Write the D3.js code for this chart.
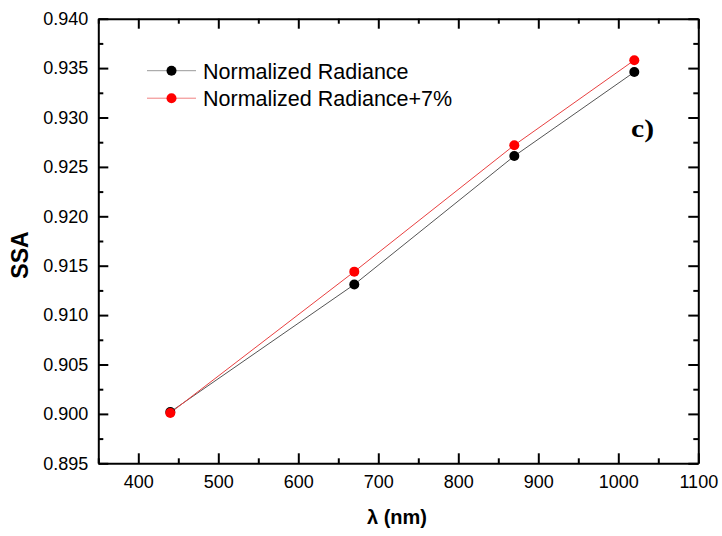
<!DOCTYPE html>
<html><head><meta charset="utf-8">
<script src="https://cdn.jsdelivr.net/npm/d3@7"></script>
<style>body{margin:0;background:#fff}svg{display:block}</style>
</head><body><svg id="c" width="722" height="536"></svg>
<script>
const wavelengths = [440, 670, 870, 1020];
const ssaNormalized = [0.9002, 0.9131, 0.9261, 0.9346];
const ssaPlus7 = [0.9001, 0.9144, 0.9272, 0.9358];
const seriesNames = ["Normalized Radiance", "Normalized Radiance+7%"];
const xTicks = [400, 500, 600, 700, 800, 900, 1000, 1100];
const yTicks = [0.895, 0.900, 0.905, 0.910, 0.915, 0.920, 0.925, 0.930, 0.935, 0.940];

(function () {
const svg = d3.select("#c");
const L = 98.3, R = 698.3, T = 18.7, B = 463.3;
const x = d3.scaleLinear().domain([350, 1100]).range([L, R]);
const y = d3.scaleLinear().domain([0.895, 0.940]).range([B, T]);
const font = "'Liberation Sans', Arial, sans-serif";

const xMinor = d3.range(350, 1101, 50).filter(v => v % 100 !== 0);
const yMinor = d3.range(0, 9).map(i => 0.8975 + i * 0.005);

const axG = svg.append("g");
const gBottom = axG.append("g").attr("transform", `translate(0,${B})`);
gBottom.call(d3.axisBottom(x).tickValues(xTicks).tickSizeInner(-10).tickSizeOuter(0).tickPadding(12).tickFormat(d3.format("d")));
const gTop = axG.append("g").attr("transform", `translate(0,${T})`);
gTop.call(d3.axisTop(x).tickValues(xTicks).tickSizeInner(-10).tickSizeOuter(0).tickFormat(""));
const gLeft = axG.append("g").attr("transform", `translate(${L},0)`);
gLeft.call(d3.axisLeft(y).tickValues(yTicks).tickSizeInner(-10).tickSizeOuter(0).tickPadding(10).tickFormat(d3.format(".3f")));
const gRight = axG.append("g").attr("transform", `translate(${R},0)`);
gRight.call(d3.axisRight(y).tickValues(yTicks).tickSizeInner(-10).tickSizeOuter(0).tickFormat(""));

gBottom.append("g").call(d3.axisBottom(x).tickValues(xMinor).tickSizeInner(-5).tickSizeOuter(0).tickFormat("")).select(".domain").remove();
gTop.append("g").call(d3.axisTop(x).tickValues(xMinor).tickSizeInner(-5).tickSizeOuter(0).tickFormat("")).select(".domain").remove();
gLeft.append("g").call(d3.axisLeft(y).tickValues(yMinor).tickSizeInner(-5).tickSizeOuter(0).tickFormat("")).select(".domain").remove();
gRight.append("g").call(d3.axisRight(y).tickValues(yMinor).tickSizeInner(-5).tickSizeOuter(0).tickFormat("")).select(".domain").remove();

axG.selectAll(".domain").attr("stroke", "#000").attr("stroke-width", 2);
axG.selectAll(".tick line").attr("stroke", "#000").attr("stroke-width", 2);
axG.selectAll(".tick text").attr("font-family", font).attr("font-size", 18).attr("fill", "#000");

svg.append("text").attr("x", 397).attr("y", 524).attr("text-anchor", "middle")
  .attr("font-family", font).attr("font-weight", "bold").attr("font-size", 20).text("λ (nm)");
svg.append("text").attr("transform", `translate(28,255) rotate(-90)`).attr("text-anchor", "middle")
  .attr("font-family", font).attr("font-weight", "bold").attr("font-size", 23).text("SSA");

const series = [
  {name: seriesNames[0], vals: ssaNormalized, line: "#555", fill: "#000"},
  {name: seriesNames[1], vals: ssaPlus7, line: "#e84040", fill: "#f00"}
];
const line = d3.line().x(d => x(d[0])).y(d => y(d[1]));
series.forEach(s => {
  const pts = wavelengths.map((w, i) => [w, s.vals[i]]);
  svg.append("path").datum(pts).attr("d", line).attr("fill", "none").attr("stroke", s.line).attr("stroke-width", 1);
});
series.forEach(s => {
  const pts = wavelengths.map((w, i) => [w, s.vals[i]]);
  svg.append("g").selectAll("circle").data(pts).join("circle")
    .attr("cx", d => x(d[0])).attr("cy", d => y(d[1])).attr("r", 5).attr("fill", s.fill);
});

series.forEach((s, i) => {
  const ly = 70.7 + i * 27.5;
  svg.append("line").attr("x1", 147).attr("x2", 196).attr("y1", ly).attr("y2", ly)
    .attr("stroke", i === 0 ? "#999" : "#f08080").attr("stroke-width", 1);
  svg.append("circle").attr("cx", 171.5).attr("cy", ly).attr("r", 5).attr("fill", s.fill);
  svg.append("text").attr("x", 203).attr("y", ly + 7.8).attr("font-family", font).attr("font-size", 21.5)
    .attr("fill", "#000").text(s.name);
});

svg.append("text").attr("x", 631).attr("y", 137).attr("font-family", "'Liberation Serif', 'Times New Roman', serif")
  .attr("font-weight", "bold").attr("font-size", 26).attr("textLength", 23).attr("lengthAdjust", "spacingAndGlyphs").text("c)");
})();
</script></body></html>
